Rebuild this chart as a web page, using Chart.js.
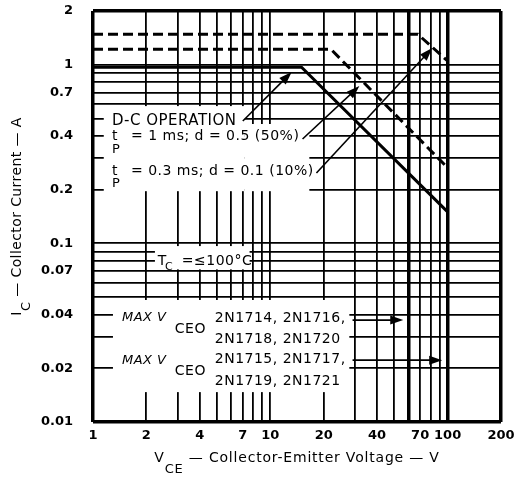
<!DOCTYPE html>
<html>
<head>
<meta charset="utf-8">
<script src="https://cdn.jsdelivr.net/npm/chart.js@4.4.0/dist/chart.umd.min.js"></script>
<style>
  html, body { margin: 0; padding: 0; background: #fff; }
  #wrap { width: 514px; height: 485px; }
</style>
</head>
<body>
<div id="wrap"><canvas id="soa" width="514" height="485"></canvas></div>
<script>
// grid: every value gets a line, only the listed ones get a number
const vceGrid = [1, 2, 3, 4, 5, 6, 7, 8, 9, 10, 20, 30, 40, 50, 60, 70, 80, 90, 100, 200];
const vceLabels = [1, 2, 4, 7, 10, 20, 40, 70, 100, 200];
const icGrid = [0.01, 0.02, 0.03, 0.04, 0.05, 0.06, 0.07, 0.08, 0.09,
                0.1, 0.2, 0.3, 0.4, 0.5, 0.6, 0.7, 0.8, 0.9, 1, 2];
const icLabels = [0.01, 0.02, 0.04, 0.07, 0.1, 0.2, 0.4, 0.7, 1, 2];
const heavyV = [1, 60, 100, 200];   // frame + max VCEO lines
const heavyI = [0.01, 2];

// safe operating area curves (V, A)
const dcV = [1, 15, 100];
const dcI = [0.97, 0.97, 0.15];
const p50V = [1, 22, 100];
const p50I = [1.22, 1.22, 0.265];
const p10V = [1, 68, 100];
const p10I = [1.48, 1.48, 1.05];

// white patches behind the notes: [V from, V to, A top, A bottom]
const blanks = [
  [1.15, 7.18, 0.587, 0.196],
  [7.18, 16.6, 0.466, 0.196],
  [2.235, 7.64, 0.0966, 0.0715],
  [1.296, 27.9, 0.0482, 0.0147]
];

// notes: [text, V, A, size, style]  (left edge, vertical middle)
const notes = [
  ['D-C OPERATION', 1.279, 0.484, 15, ''],
  ['t', 1.279, 0.399, 14, ''],
  ['P', 1.279, 0.333, 13, ''],
  ['= 1 ms; d = 0.5 (50%)', 1.637, 0.399, 14, ''],
  ['t', 1.279, 0.254, 14, ''],
  ['P', 1.279, 0.215, 13, ''],
  ['= 0.3 ms; d = 0.1 (10%)', 1.637, 0.254, 14, ''],
  ['T', 2.322, 0.0796, 14, ''],
  ['C', 2.544, 0.0738, 11, ''],
  ['=\u2264100\u00b0C', 3.168, 0.0796, 14, ''],
  ['MAX V', 1.456, 0.0382, 13, 'italic'],
  ['CEO', 2.893, 0.0332, 14, ''],
  ['2N1714, 2N1716,', 4.86, 0.0382, 14, ''],
  ['2N1718, 2N1720', 4.86, 0.0291, 14, ''],
  ['MAX V', 1.456, 0.0222, 13, 'italic'],
  ['CEO', 2.893, 0.0193, 14, ''],
  ['2N1715, 2N1717,', 4.86, 0.0225, 14, ''],
  ['2N1719, 2N1721', 4.86, 0.01695, 14, '']
];

// leader arrows: [V from, A from, V tip, A tip]
const arrows = [
  [7.0, 0.484, 13.2, 0.911],
  [15.2, 0.384, 31.8, 0.76],
  [18.2, 0.248, 81.9, 1.24],
  [29.1, 0.0372, 56.2, 0.0372],
  [29.1, 0.0222, 93.2, 0.0222]
];

const FONT = '"DejaVu Sans", sans-serif';

function pts(xs, ys) {
  return xs.map((v, i) => ({ x: v, y: ys[i] }));
}

function drawArrow(ctx, x0, y0, x1, y1) {
  const a = Math.atan2(y1 - y0, x1 - x0);
  const len = 13, half = 4.5;
  ctx.beginPath();
  ctx.moveTo(x0, y0);
  ctx.lineTo(x1 - Math.cos(a) * len * 0.8, y1 - Math.sin(a) * len * 0.8);
  ctx.stroke();
  ctx.beginPath();
  ctx.moveTo(x1, y1);
  ctx.lineTo(x1 - Math.cos(a) * len - Math.sin(a) * half, y1 - Math.sin(a) * len + Math.cos(a) * half);
  ctx.lineTo(x1 - Math.cos(a) * len + Math.sin(a) * half, y1 - Math.sin(a) * len - Math.cos(a) * half);
  ctx.closePath();
  ctx.fill();
}

const notesPlugin = {
  id: 'notes',
  beforeDatasetsDraw(chart) {
    const { ctx, scales: { x, y } } = chart;
    ctx.save();
    ctx.fillStyle = '#fff';
    blanks.forEach(([v0, v1, i0, i1]) => {
      const l = x.getPixelForValue(v0), r = x.getPixelForValue(v1);
      const t = y.getPixelForValue(i0), b = y.getPixelForValue(i1);
      ctx.fillRect(l, t, r - l, b - t);
    });
    ctx.restore();
  },
  afterDatasetsDraw(chart) {
    const { ctx, scales: { x, y } } = chart;
    ctx.save();
    ctx.fillStyle = '#000';
    ctx.strokeStyle = '#000';
    ctx.textBaseline = 'middle';
    ctx.textAlign = 'left';
    ctx.letterSpacing = '0.5px';
    notes.forEach(([txt, v, i, size, style]) => {
      ctx.font = `${style} ${size}px ${FONT}`;
      ctx.fillText(txt, x.getPixelForValue(v), y.getPixelForValue(i));
    });
    ctx.lineWidth = 1.6;
    arrows.forEach(([v0, i0, v1, i1]) => {
      drawArrow(ctx, x.getPixelForValue(v0), y.getPixelForValue(i0),
                x.getPixelForValue(v1), y.getPixelForValue(i1));
    });
    ctx.restore();
  },
  afterDraw(chart) {
    const { ctx, chartArea } = chart;
    ctx.save();
    ctx.fillStyle = '#000';
    ctx.textBaseline = 'middle';
    ctx.textAlign = 'left';
    ctx.letterSpacing = '0.8px';
    // x title
    const big = `14px ${FONT}`, small = `13px ${FONT}`;
    const rest = ' \u2014 Collector-Emitter Voltage \u2014 V';
    ctx.font = big;
    const wV = ctx.measureText('V').width, wRest = ctx.measureText(rest).width;
    ctx.font = small;
    const wCE = ctx.measureText('CE').width;
    let cx = (chartArea.left + chartArea.right) / 2 - (wV + wCE + wRest) / 2;
    ctx.font = big; ctx.fillText('V', cx, 458);
    ctx.font = small; ctx.fillText('CE', cx + wV, 470);
    ctx.font = big; ctx.fillText(rest, cx + wV + wCE, 458);
    // y title, rotated
    ctx.letterSpacing = '0.4px';
    const restY = ' \u2014 Collector Current \u2014 A';
    ctx.font = big;
    const wI = ctx.measureText('I').width, wRestY = ctx.measureText(restY).width;
    ctx.font = small;
    const wC = ctx.measureText('C').width;
    ctx.translate(17, (chartArea.top + chartArea.bottom) / 2);
    ctx.rotate(-Math.PI / 2);
    const sx = -(wI + wC + wRestY) / 2;
    ctx.font = big; ctx.fillText('I', sx, 0);
    ctx.font = small; ctx.fillText('C', sx + wI, 10);
    ctx.font = big; ctx.fillText(restY, sx + wI + wC, 0);
    ctx.restore();
  }
};

const setTicks = list => scale => {
  scale.ticks = list.map(v => ({ value: v }));
};

new Chart(document.getElementById('soa'), {
  type: 'line',
  data: {
    datasets: [
      { data: pts(dcV, dcI), borderWidth: 3 },
      { data: pts(p50V, p50I), borderWidth: 3, borderDash: [10, 5] },
      { data: pts(p10V, p10I), borderWidth: 3, borderDash: [10, 5] }
    ].map(d => Object.assign(d, {
      borderColor: '#000', pointRadius: 0, fill: false, tension: 0, borderCapStyle: 'butt'
    }))
  },
  options: {
    responsive: false,
    devicePixelRatio: 1,
    animation: false,
    layout: { padding: { left: 0, right: 13, top: 11, bottom: 0 } },
    plugins: { legend: { display: false }, tooltip: { enabled: false } },
    scales: {
      x: {
        type: 'logarithmic',
        min: 1, max: 200,
        afterBuildTicks: setTicks(vceGrid),
        afterFit: s => { s.height = 63; s.paddingLeft = 0; s.paddingRight = 0; },
        border: { display: false },
        grid: {
          color: '#000',
          drawTicks: false,
          lineWidth: c => heavyV.includes(c.tick.value) ? 3.5 : 1.8
        },
        ticks: {
          autoSkip: false, maxRotation: 0, padding: 6,
          color: '#000',
          font: { family: FONT, size: 13, weight: 'bold' },
          callback: v => vceLabels.includes(v) ? String(v) : ''
        }
      },
      y: {
        type: 'logarithmic',
        min: 0.01, max: 2,
        afterBuildTicks: setTicks(icGrid),
        afterFit: s => { s.width = 93; s.paddingTop = 0; s.paddingBottom = 0; },
        border: { display: false },
        grid: {
          color: '#000',
          drawTicks: false,
          lineWidth: c => heavyI.includes(c.tick.value) ? 3.5 : 1.8
        },
        ticks: {
          autoSkip: false, padding: 20,
          color: '#000',
          font: { family: FONT, size: 13, weight: 'bold' },
          callback: v => icLabels.includes(v) ? String(v) : ''
        }
      }
    }
  },
  plugins: [notesPlugin]
});
</script>
</body>
</html>
